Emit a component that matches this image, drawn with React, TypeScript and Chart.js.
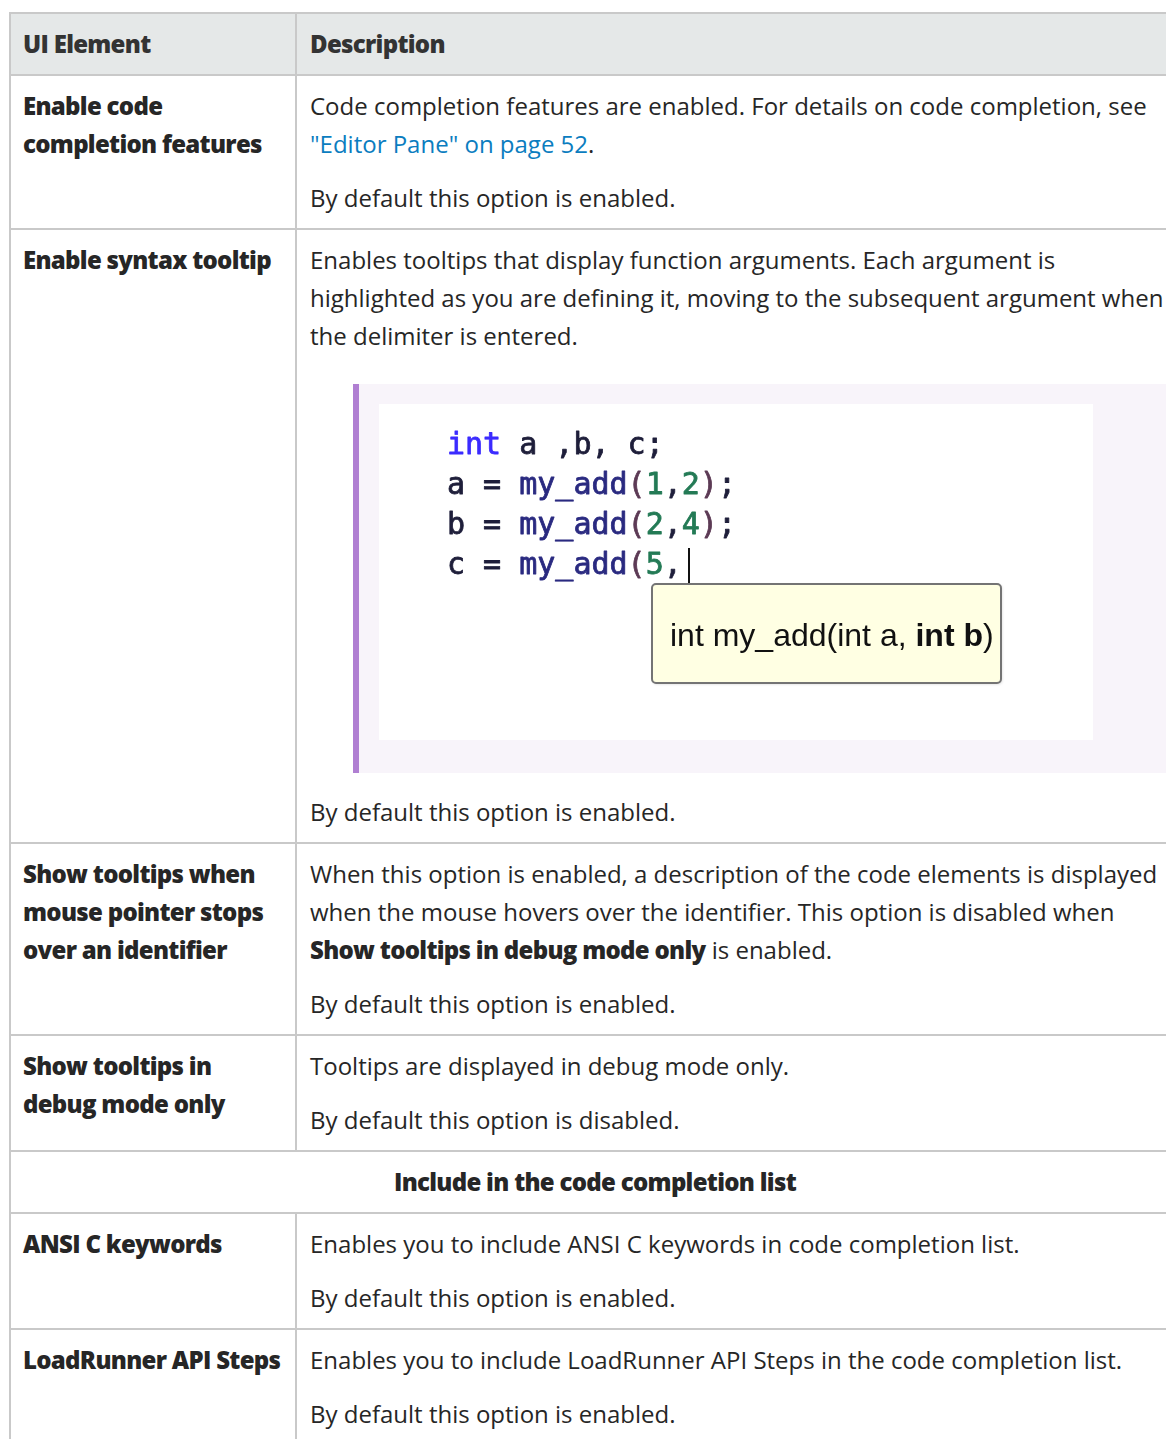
import React, { useEffect, useRef } from "react";
import { Chart, registerables } from "chart.js";

Chart.register(...registerables);

// ---------- table content ----------
const headerLabels = ["UI Element", "Description"];

const row1Element = ["Enable code", "completion features"];
const row1Desc = ["Code completion features are enabled. For details on code completion, see"];
const row1Link = "\"Editor Pane\" on page 52";
const row1Default = "By default this option is enabled.";

const row2Element = ["Enable syntax tooltip"];
const row2Desc = [
  "Enables tooltips that display function arguments. Each argument is",
  "highlighted as you are defining it, moving to the subsequent argument when",
  "the delimiter is entered.",
];
const row2Default = "By default this option is enabled.";

const row3Element = ["Show tooltips when", "mouse pointer stops", "over an identifier"];
const row3Desc = [
  "When this option is enabled, a description of the code elements is displayed",
  "when the mouse hovers over the identifier. This option is disabled when",
];
const row3Bold = "Show tooltips in debug mode only";
const row3Tail = " is enabled.";
const row3Default = "By default this option is enabled.";

const row4Element = ["Show tooltips in", "debug mode only"];
const row4Desc = "Tooltips are displayed in debug mode only.";
const row4Default = "By default this option is disabled.";

const sectionLabel = "Include in the code completion list";

const row5Element = ["ANSI C keywords"];
const row5Desc = "Enables you to include ANSI C keywords in code completion list.";
const row5Default = "By default this option is enabled.";

const row6Element = ["LoadRunner API Steps"];
const row6Desc = "Enables you to include LoadRunner API Steps in the code completion list.";
const row6Default = "By default this option is enabled.";

// ---------- code snippet content (token text, token kind) ----------
const codeLine1 = [["int", "kw"], [" a ,b, c;", "plain"]];
const codeLine2 = [["a = ", "plain"], ["my_add", "fn"], ["(", "paren"], ["1", "num"], [",", "plain"], ["2", "num"], [")", "paren"], [";", "plain"]];
const codeLine3 = [["b = ", "plain"], ["my_add", "fn"], ["(", "paren"], ["2", "num"], [",", "plain"], ["4", "num"], [")", "paren"], [";", "plain"]];
const codeLine4 = [["c = ", "plain"], ["my_add", "fn"], ["(", "paren"], ["5", "num"], [",", "plain"]];
const codeLines = [codeLine1, codeLine2, codeLine3, codeLine4];

const tooltipParts = [["int my_add(int a, ", "normal"], ["int b", "bold"], [")", "normal"]];

// ---------- styles ----------
const TOKEN_COLORS: Record<string, string> = {
  kw: "#3b2bff",
  plain: "#1e1e3a",
  fn: "#2a2a80",
  paren: "#5c3a55",
  num: "#237a55",
};

const BORDER = "2px solid #c9c9c9";
const TEXT = "#262626";
const FONT = "'Open Sans', 'Noto Sans', sans-serif";

const lineStyle: React.CSSProperties = { height: 38, lineHeight: "38px", whiteSpace: "nowrap" };
const boldStyle: React.CSSProperties = { fontWeight: 800, letterSpacing: "-0.7px" };

function Lines({ lines, bold }: { lines: string[]; bold?: boolean }) {
  return (
    <div>
      {lines.map((l, i) => (
        <div key={i} style={{ ...lineStyle, ...(bold ? boldStyle : {}) }}>
          {l}
        </div>
      ))}
    </div>
  );
}

function Para({ children, first }: { children: React.ReactNode; first?: boolean }) {
  return <div style={{ marginTop: first ? 0 : 16 }}>{children}</div>;
}

function Row({ left, right, header }: { left: React.ReactNode; right: React.ReactNode; header?: boolean }) {
  const base: React.CSSProperties = {
    boxSizing: "border-box",
    borderTop: BORDER,
    borderLeft: BORDER,
    paddingTop: 11,
    paddingBottom: 11,
    background: header ? "#e5e8e8" : "#ffffff",
    color: header ? "#333333" : TEXT,
  };
  return (
    <div style={{ display: "flex", alignItems: "stretch" }}>
      <div style={{ ...base, width: 286, paddingLeft: 12, paddingRight: 10 }}>{left}</div>
      <div style={{ ...base, width: 884, paddingLeft: 13, paddingRight: 13 }}>{right}</div>
    </div>
  );
}

function CodePanel() {
  const ref = useRef<HTMLCanvasElement | null>(null);
  useEffect(() => {
    const canvas = ref.current;
    if (!canvas) return;
    const W = 813;
    const H = 389;
    const panelPlugin = {
      id: "codePanel",
      beforeDraw(chart: any) {
        const ctx = chart.ctx as CanvasRenderingContext2D;
        const xs = chart.scales.x;
        const ys = chart.scales.y;
        const px = (v: number) => xs.getPixelForValue(v);
        const py = (v: number) => ys.getPixelForValue(v);
        ctx.save();
        // lavender background
        ctx.fillStyle = "#f8f4fa";
        ctx.fillRect(px(0), py(0), px(W) - px(0), py(H) - py(0));
        // purple accent bar
        ctx.fillStyle = "#b07fd2";
        ctx.fillRect(px(0), py(0), px(6) - px(0), py(H) - py(0));
        // white screenshot area
        ctx.fillStyle = "#ffffff";
        ctx.fillRect(px(26), py(20), px(740) - px(26), py(356) - py(20));
        // code lines
        ctx.font = "30px 'DejaVu Sans Mono', 'Liberation Mono', monospace";
        ctx.textBaseline = "alphabetic";
        ctx.lineWidth = 0.8;
        ctx.lineJoin = "round";
        codeLines.forEach((line, i) => {
          let x = px(94);
          const y = py(70 + i * 40);
          line.forEach(([txt, kind]) => {
            ctx.fillStyle = TOKEN_COLORS[kind];
            ctx.strokeStyle = TOKEN_COLORS[kind];
            ctx.fillText(txt, x, y);
            ctx.strokeText(txt, x, y);
            x += ctx.measureText(txt).width;
          });
        });
        // caret
        ctx.fillStyle = "#111111";
        ctx.fillRect(px(335), py(164), 2, py(199) - py(164));
        // tooltip box
        const tx0 = px(299), ty0 = py(200), tx1 = px(648), ty1 = py(299);
        ctx.shadowColor = "rgba(0,0,0,0.18)";
        ctx.shadowBlur = 3;
        ctx.shadowOffsetX = 1;
        ctx.shadowOffsetY = 1;
        ctx.beginPath();
        ctx.roundRect(tx0, ty0, tx1 - tx0, ty1 - ty0, 4);
        ctx.fillStyle = "#ffffe3";
        ctx.fill();
        ctx.shadowColor = "transparent";
        ctx.lineWidth = 2;
        ctx.strokeStyle = "#747474";
        ctx.stroke();
        // tooltip text
        let x = px(317);
        const y = py(262);
        ctx.fillStyle = "#111111";
        tooltipParts.forEach(([txt, w]) => {
          ctx.font = (w === "bold" ? "bold " : "") + "32px 'Liberation Sans', Arial, sans-serif";
          ctx.fillText(txt, x, y);
          x += ctx.measureText(txt).width;
        });
        ctx.restore();
      },
    };
    const chart = new Chart(canvas, {
      type: "scatter",
      data: { datasets: [{ data: [], pointRadius: 0 }] },
      options: {
        animation: false,
        responsive: false,
        devicePixelRatio: 1,
        layout: { padding: 0 },
        events: [],
        plugins: { legend: { display: false }, tooltip: { enabled: false } },
        scales: {
          x: { type: "linear", min: 0, max: W, display: false },
          y: { type: "linear", min: 0, max: H, reverse: true, display: false },
        },
      },
      plugins: [panelPlugin],
    });
    return () => chart.destroy();
  }, []);
  return (
    <div style={{ width: 813, height: 389, marginLeft: 43, marginTop: 29, marginBottom: 20 }}>
      <canvas ref={ref} width={813} height={389} style={{ display: "block", width: 813, height: 389 }} />
    </div>
  );
}

export default function App() {
  return (
    <div
      style={{
        position: "absolute",
        left: 0,
        top: 0,
        width: 1166,
        height: 1439,
        overflow: "hidden",
        background: "#ffffff",
        fontFamily: FONT,
        fontSize: 24,
        color: TEXT,
      }}
    >
      <div style={{ position: "absolute", left: 9, top: 12, width: 1170 }}>
        <Row header left={<Lines bold lines={[headerLabels[0]]} />} right={<Lines bold lines={[headerLabels[1]]} />} />

        <Row
          left={<Lines bold lines={row1Element} />}
          right={
            <>
              <Para first>
                <Lines lines={row1Desc} />
                <div style={lineStyle}>
                  <span style={{ color: "#0b7dbf" }}>{row1Link}</span>.
                </div>
              </Para>
              <Para>
                <Lines lines={[row1Default]} />
              </Para>
            </>
          }
        />

        <Row
          left={<Lines bold lines={row2Element} />}
          right={
            <>
              <Lines lines={row2Desc} />
              <CodePanel />
              <Lines lines={[row2Default]} />
            </>
          }
        />

        <Row
          left={<Lines bold lines={row3Element} />}
          right={
            <>
              <Para first>
                <Lines lines={row3Desc} />
                <div style={lineStyle}>
                  <span style={boldStyle}>{row3Bold}</span>
                  {row3Tail}
                </div>
              </Para>
              <Para>
                <Lines lines={[row3Default]} />
              </Para>
            </>
          }
        />

        <Row
          left={<Lines bold lines={row4Element} />}
          right={
            <>
              <Para first>
                <Lines lines={[row4Desc]} />
              </Para>
              <Para>
                <Lines lines={[row4Default]} />
              </Para>
            </>
          }
        />

        <div
          style={{
            boxSizing: "border-box",
            width: 1170,
            borderTop: BORDER,
            borderLeft: BORDER,
            padding: "11px 12px",
            textAlign: "center",
          }}
        >
          <div style={{ ...lineStyle, ...boldStyle }}>{sectionLabel}</div>
        </div>

        <Row
          left={<Lines bold lines={row5Element} />}
          right={
            <>
              <Para first>
                <Lines lines={[row5Desc]} />
              </Para>
              <Para>
                <Lines lines={[row5Default]} />
              </Para>
            </>
          }
        />

        <Row
          left={<Lines bold lines={row6Element} />}
          right={
            <>
              <Para first>
                <Lines lines={[row6Desc]} />
              </Para>
              <Para>
                <Lines lines={[row6Default]} />
              </Para>
            </>
          }
        />
      </div>
    </div>
  );
}
